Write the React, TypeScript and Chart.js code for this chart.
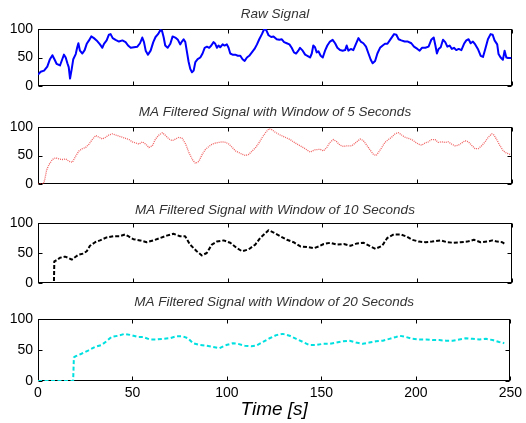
import React, { useEffect, useRef } from "react";
import { Chart, registerables } from "chart.js";

Chart.register(...registerables);

// ---------------- data ----------------
const rawT = [0, 1.4, 3.2, 4.9, 6.3, 7.6, 8.8, 9.8, 11.6, 12.7, 13.7, 14.6, 15.5, 16.2, 16.9, 17.8, 18.6, 19.9, 20.7, 21.3, 22.1, 23.4, 24.6, 25.7, 26.9, 28.1, 29.5, 30.9, 32.7, 33.9, 34.8, 36.2, 37.4, 38.3, 39.4, 40.9, 42.7, 44.5, 46.2, 47.5, 48.9, 50.6, 52.4, 53.8, 55, 55.9, 56.8, 58, 59.4, 60.8, 62, 63.3, 64.5, 65.4, 66.3, 67.1, 68.4, 69.8, 71, 72.4, 73.8, 75, 75.9, 76.8, 77.7, 78.6, 79.4, 80.3, 81.2, 82.1, 83, 84.2, 85.6, 86.8, 87.9, 89.1, 90.3, 91.4, 92.6, 93.5, 94.4, 95.2, 96.1, 97.4, 98.4, 99.6, 100.5, 101.4, 102.6, 104, 105.4, 106.7, 107.9, 109, 110.2, 111.4, 112.8, 114.2, 115.5, 116.7, 118.1, 119.3, 120.4, 121.6, 123, 124.2, 125.9, 127.3, 128.6, 129.8, 131.2, 132.6, 133.8, 135, 136.1, 137.3, 138.2, 139.6, 140.9, 142.1, 143.5, 144.4, 145.2, 146.1, 147, 147.9, 149.1, 150.2, 151.4, 152.6, 154, 155.4, 156.7, 157.9, 159.3, 160.7, 162, 162.8, 163.7, 165, 166.3, 167.7, 169, 170.2, 171.6, 173, 174.3, 175.5, 176.5, 177.8, 179, 180.4, 181.8, 183, 184.3, 185.7, 187.8, 189, 190.2, 191.6, 193.4, 195.1, 196.9, 198.3, 200.1, 201.3, 202.5, 204.3, 206, 207.4, 208.7, 209.6, 210.4, 211.3, 212.4, 213.6, 214.8, 215.9, 217.1, 218.3, 219.4, 220.6, 221.9, 223.3, 224.7, 225.9, 227.1, 228.2, 229.4, 230.6, 232, 233.5, 234.7, 235.9, 237.3, 238.7, 239.8, 240.8, 242.2, 242.9, 244, 245.2, 246.1, 247, 248.2, 249.6];
const rawV = [20, 25, 27, 34, 47, 54, 46, 39, 36, 46, 55, 50, 40, 33, 13, 30, 47, 56, 68, 75, 62, 57, 63, 74, 80, 87, 84, 80, 73, 67, 74, 80, 90, 91, 84, 81, 78, 80, 77, 71, 67, 68, 69, 75, 85, 77, 62, 55, 62, 77, 86, 91, 98, 97, 85, 71, 67, 74, 87, 85, 81, 73, 78, 82, 77, 59, 43, 30, 24, 27, 42, 47, 50, 57, 67, 69, 67, 71, 77, 74, 67, 71, 68, 73, 71, 73, 67, 57, 55, 55, 53, 53, 47, 44, 50, 53, 59, 65, 73, 82, 91, 100, 98, 89, 86, 87, 82, 81, 82, 77, 75, 73, 67, 59, 57, 62, 67, 62, 55, 53, 50, 57, 71, 68, 59, 61, 53, 50, 62, 71, 78, 81, 75, 67, 63, 62, 63, 71, 62, 65, 63, 74, 84, 78, 75, 69, 57, 46, 40, 44, 57, 67, 71, 74, 74, 81, 91, 90, 82, 80, 78, 78, 75, 69, 65, 62, 67, 67, 69, 81, 85, 71, 57, 65, 68, 81, 77, 69, 71, 65, 67, 63, 65, 63, 74, 80, 82, 75, 78, 73, 65, 53, 51, 65, 82, 91, 90, 80, 73, 56, 50, 46, 62, 50, 49, 49];

const ma5T = [0, 2.8, 3.5, 4.6, 5.8, 7.6, 9.3, 11.1, 12.8, 14.6, 16.3, 18.1, 19.9, 21.6, 23.4, 25.1, 26.9, 28.6, 30.4, 32.2, 33.9, 35.7, 37.4, 39.2, 40.9, 42.7, 44.5, 46.2, 48, 49.7, 51.5, 53.3, 55, 56.8, 58.5, 60.3, 62, 63.8, 65.6, 67.3, 69.1, 70.8, 72.6, 74.3, 76.1, 77.9, 79.6, 81.4, 83.1, 84.9, 86.6, 88.4, 90.2, 91.9, 93.7, 95.4, 97.2, 99, 100.7, 102.5, 104.2, 106, 107.7, 109.5, 111.2, 113, 114.8, 116.5, 118.3, 120, 121.8, 123.6, 125, 127.7, 130.3, 133, 135.6, 138.2, 140.9, 143.5, 146.1, 148.8, 150.5, 152.3, 154, 155.8, 157.6, 159.3, 161.1, 163.2, 165.5, 167.7, 169.9, 171.6, 173.4, 175.1, 176.9, 178.3, 179.5, 181.3, 183, 184.8, 186.5, 188.3, 190.1, 191.8, 193.6, 195.3, 197.1, 198.8, 200.6, 202.4, 204.1, 205.9, 207.6, 209.4, 211.1, 212.9, 214.7, 216.4, 218.2, 219.9, 221.7, 223.5, 225.2, 227, 228.7, 230.5, 232.2, 234, 235.8, 237.5, 239.3, 240.5, 241.9, 243.7, 245.4, 247.2, 249];
const ma5V = [0, 0, 7, 25, 34, 43, 46, 44, 43, 44, 40, 38, 49, 58, 62, 64, 70, 78, 85, 82, 79, 82, 86, 88, 86, 84, 82, 80, 78, 74, 72, 70, 74, 70, 64, 67, 79, 86, 90, 85, 79, 76, 79, 82, 80, 70, 55, 43, 36, 40, 52, 61, 66, 70, 72, 73, 74, 73, 70, 64, 58, 55, 52, 50, 52, 58, 64, 72, 82, 90, 97, 95, 91, 86, 82, 78, 72, 67, 62, 56, 60, 61, 58, 64, 73, 78, 74, 68, 66, 67, 67, 73, 79, 76, 68, 60, 52, 50, 55, 64, 73, 78, 82, 88, 90, 86, 82, 80, 78, 74, 70, 68, 72, 74, 78, 78, 73, 74, 73, 74, 70, 67, 68, 72, 76, 74, 68, 62, 62, 67, 74, 82, 88, 86, 78, 67, 58, 54, 52];

const ma10T = [0, 8.4, 8.6, 9.8, 11.6, 14.2, 16, 17.8, 19.5, 21.3, 23.9, 25.7, 27.4, 30.1, 32.7, 36.2, 39.7, 43.2, 45.9, 47.6, 50.3, 53.8, 57.3, 60.9, 64.4, 67.9, 71.4, 74.9, 77.6, 80.2, 83.7, 86.4, 89, 91.7, 94.3, 97.9, 101.4, 104.9, 107.6, 111.1, 114.6, 117.2, 119.9, 121.6, 124.3, 127.8, 131.3, 134.8, 138.4, 141.9, 145.4, 148.1, 150.7, 154.2, 157.7, 161.3, 164.8, 168.3, 171.8, 175.4, 178, 181.5, 184.2, 187.7, 191.2, 194.7, 197.4, 200.9, 204.4, 207.9, 212.3, 215.8, 219.3, 222.8, 226.4, 229.9, 233.4, 236.9, 239.6, 242.2, 244.9, 246.6];
const ma10V = [0, 0, 36, 38, 42, 44, 42, 39, 43, 47, 49, 53, 62, 68, 71, 76, 78, 78, 81, 78, 73, 71, 68, 71, 75, 79, 82, 78, 78, 64, 53, 46, 50, 64, 69, 71, 67, 58, 53, 56, 64, 75, 83, 88, 84, 78, 72, 68, 61, 60, 58, 61, 65, 67, 64, 65, 62, 66, 67, 61, 57, 62, 75, 81, 81, 77, 72, 69, 68, 69, 71, 68, 67, 68, 69, 72, 68, 69, 71, 69, 68, 64];

const ma20T = [0, 18.6, 19, 20, 23, 26.5, 30.1, 33.6, 36.2, 38.9, 42.4, 45.9, 49.4, 52.9, 55.6, 59.1, 62.6, 66.1, 69.7, 73.2, 76.7, 79.4, 82, 85.6, 89.1, 92.6, 96.1, 99.7, 103.2, 105.8, 109.4, 112.9, 115.5, 119.1, 122.6, 126.1, 129.6, 133.2, 136.7, 140.2, 143.7, 147.3, 150.8, 154.3, 157.8, 161.3, 164.9, 168.4, 171.9, 175.4, 179, 182.5, 186, 189.5, 191.3, 194.8, 198.3, 201.9, 205.4, 208.9, 212.4, 216, 219.5, 223, 226.5, 230, 233.6, 237.1, 240.6, 244.1, 246.8];
const ma20V = [0, 0, 38, 40, 44, 49, 55, 58, 64, 71, 73, 76, 74, 71, 71, 67, 67, 68, 69, 72, 72, 69, 61, 58, 57, 55, 53, 58, 61, 60, 57, 56, 57, 63, 69, 74, 76, 73, 68, 63, 58, 58, 60, 60, 62, 64, 65, 62, 60, 62, 64, 65, 68, 71, 73, 71, 68, 67, 67, 66, 66, 65, 65, 67, 69, 68, 67, 68, 66, 63, 61];

const xTickValues = [0, 50, 100, 150, 200, 250];
const yTickValues = [0, 50, 100];
const titles = [
  "Raw Signal",
  "MA Filtered Signal with Window of 5 Seconds",
  "MA Filtered Signal with Window of 10 Seconds",
  "MA Filtered Signal with Window of 20 Seconds",
];
const xAxisTitle = "Time [s]";

// ---------------- layout / style ----------------
const FONT = "'Liberation Sans', Arial, Helvetica, sans-serif";
const HEAD = 24; // space above plot area for title
const FOOT = 14; // space under plots 1-3 for the "0" label
const PANELS = [
  { t: rawT, v: rawV, color: "#0000ff", width: 2, dash: [] as number[], top: 29, bottom: 86, tp: 2.25 },
  { t: ma5T, v: ma5V, color: "rgba(235,30,30,0.7)", width: 1.3, dash: [1, 1], top: 127, bottom: 184, tp: 2.25 },
  { t: ma10T, v: ma10V, color: "#000000", width: 2, dash: [4, 2], top: 223, bottom: 283, tp: 4.25 },
  { t: ma20T, v: ma20V, color: "#00e0e0", width: 2, dash: [4, 2.5], top: 319, bottom: 381, tp: 0 },
];

const boxPlugin = {
  id: "matlabBox",
  beforeDatasetsDraw(chart: any) {
    const { ctx, chartArea: a, scales } = chart;
    const xs = scales.x;
    const ys = scales.y;
    const L = Math.round(a.left) + 0.5;
    const R = Math.round(a.right) - 0.5;
    const T = Math.round(a.top) + 0.5;
    const B = Math.round(a.bottom) - 0.5;
    ctx.save();
    ctx.strokeStyle = "#000";
    ctx.lineWidth = 1;
    ctx.strokeRect(L, T, R - L, B - T);
    const tl = 4;
    ctx.beginPath();
    xTickValues.forEach((v) => {
      const px = Math.round(xs.getPixelForValue(v)) + 0.5;
      ctx.moveTo(px, T);
      ctx.lineTo(px, T + tl);
      ctx.moveTo(px, B);
      ctx.lineTo(px, B - tl);
    });
    yTickValues.forEach((v) => {
      const py = Math.round(ys.getPixelForValue(v)) + 0.5;
      ctx.moveTo(L, py);
      ctx.lineTo(L + tl, py);
      ctx.moveTo(R, py);
      ctx.lineTo(R - tl, py);
    });
    ctx.stroke();
    ctx.restore();
  },
};

function canvasHeight(i: number) {
  const p = PANELS[i];
  if (i === PANELS.length - 1) return 423 - (p.top - HEAD);
  return p.bottom - p.top + HEAD + FOOT;
}

function makeConfig(i: number): any {
  const p = PANELS[i];
  const last = i === PANELS.length - 1;
  return {
    type: "line",
    data: {
      datasets: [
        {
          data: p.t.map((t, k) => ({ x: t, y: p.v[k] })),
          borderColor: p.color,
          borderWidth: p.width,
          borderDash: p.dash,
          borderJoinStyle: "round",
          pointRadius: 0,
          tension: 0,
          fill: false,
        },
      ],
    },
    options: {
      responsive: false,
      animation: false,
      layout: { padding: { left: 0, right: 14, top: 0, bottom: last ? 0 : FOOT } },
      plugins: {
        legend: { display: false },
        tooltip: { enabled: false },
        title: {
          display: true,
          text: titles[i],
          fullSize: false,
          color: "#333",
          font: { family: FONT, size: 13.5, style: "italic", weight: "normal", lineHeight: 1 },
          padding: { top: p.tp, bottom: HEAD - 13.5 - p.tp },
        },
      },
      scales: {
        x: {
          type: "linear",
          min: 0,
          max: 250,
          display: last,
          grid: { display: false, drawTicks: false },
          border: { display: false },
          ticks: {
            stepSize: 50,
            padding: 4,
            color: "#000",
            maxRotation: 0,
            font: { family: FONT, size: 14 },
          },
          title: {
            display: last,
            text: xAxisTitle,
            color: "#000",
            font: { family: FONT, size: 19, style: "italic" },
            padding: { top: 0, bottom: 2 },
          },
          afterFit: (s: any) => {
            if (last) s.height = 42;
          },
        },
        y: {
          min: 0,
          max: 100,
          grid: { display: false, drawTicks: false },
          border: { display: false },
          ticks: {
            stepSize: 50,
            padding: 5,
            color: "#000",
            font: { family: FONT, size: 14 },
          },
          afterFit: (s: any) => {
            s.width = 38;
          },
        },
      },
    },
    plugins: [boxPlugin],
  };
}

export default function App() {
  const refs = useRef<(HTMLCanvasElement | null)[]>([]);
  useEffect(() => {
    const charts = PANELS.map((_, i) => new Chart(refs.current[i] as HTMLCanvasElement, makeConfig(i)));
    return () => charts.forEach((c) => c.destroy());
  }, []);
  return (
    <div style={{ position: "fixed", left: 0, top: 0, width: 526, height: 423, background: "#fff" }}>
      {PANELS.map((p, i) => (
        <canvas
          key={i}
          ref={(el) => {
            refs.current[i] = el;
          }}
          width={526}
          height={canvasHeight(i)}
          style={{ position: "absolute", left: 0, top: p.top - HEAD, display: "block" }}
        />
      ))}
    </div>
  );
}
